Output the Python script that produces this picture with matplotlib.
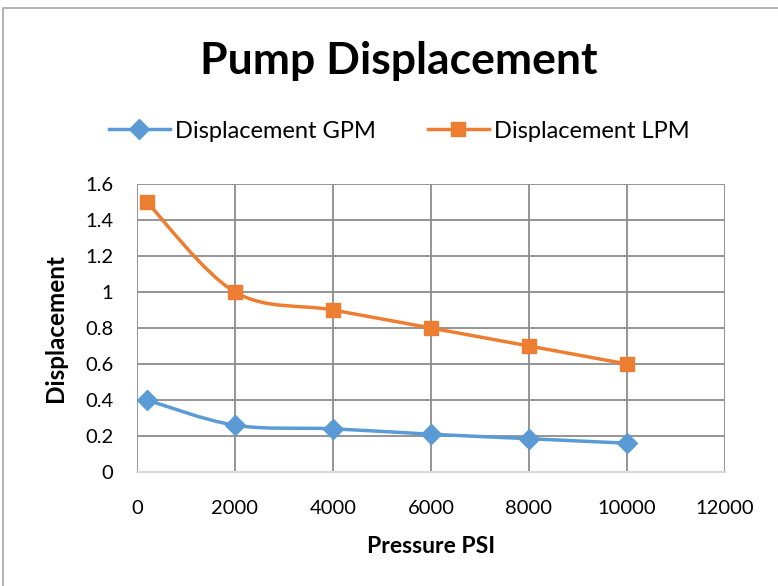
import matplotlib
matplotlib.use('Agg')
import matplotlib.pyplot as plt
import numpy as np
from matplotlib.path import Path
from matplotlib.patches import PathPatch, Rectangle
from matplotlib.lines import Line2D

# 数据
pressure_psi = [200, 2000, 4000, 6000, 8000, 10000]
displacement_gpm = [0.4, 0.26, 0.24, 0.21, 0.185, 0.16]
displacement_lpm = [1.5, 1.0, 0.9, 0.8, 0.7, 0.6]

x_ticks = [0, 2000, 4000, 6000, 8000, 10000, 12000]
y_ticks = [0, 0.2, 0.4, 0.6, 0.8, 1, 1.2, 1.4, 1.6]
y_tick_labels = ['0', '0.2', '0.4', '0.6', '0.8', '1', '1.2', '1.4', '1.6']

BLUE = '#5B9BD5'
ORANGE = '#ED7D31'
GRID = '#8c8c8c'

plt.rcParams['font.family'] = ['Lato', 'DejaVu Sans']


def smooth_path(xs, ys):
    """Excel 风格的平滑曲线（三次贝塞尔）"""
    pts = np.column_stack([xs, ys]).astype(float)
    n = len(pts)
    verts = [pts[0]]
    codes = [Path.MOVETO]
    for i in range(n - 1):
        p0 = pts[i - 1] if i > 0 else pts[i]
        p1 = pts[i]
        p2 = pts[i + 1]
        p3 = pts[i + 2] if i + 2 < n else pts[i + 1]
        c1 = p1 + (p2 - p0) / 6.0
        c2 = p2 - (p3 - p1) / 6.0
        verts += [c1, c2, p2]
        codes += [Path.CURVE4] * 3
    return Path(verts, codes)


fig = plt.figure(figsize=(7.78, 5.86), dpi=100)
fig.patches.append(Rectangle((3 / 778, -0.05), 1.2, 1.0 - 8 / 586 + 0.05,
                             transform=fig.transFigure, fill=False,
                             edgecolor='#a6a6a6', linewidth=1.2))

ax = fig.add_axes([137 / 778, 1 - 472 / 586, (725 - 137) / 778, (472 - 184) / 586])

for ys, color, marker, ms, label in [
    (displacement_gpm, BLUE, 'D', 10, 'Displacement GPM'),
    (displacement_lpm, ORANGE, 's', 10, 'Displacement LPM'),
]:
    ax.add_patch(PathPatch(smooth_path(pressure_psi, ys), facecolor='none',
                           edgecolor=color, linewidth=2.5, zorder=3,
                           capstyle='round'))
    ax.plot(pressure_psi, ys, linestyle='none', marker=marker, markersize=ms,
            color=color, zorder=4, label=label)

ax.set_xlim(0, 12000)
ax.set_ylim(0, 1.6)
ax.set_xticks(x_ticks)
ax.set_xticklabels([str(t) for t in x_ticks])
ax.set_yticks(y_ticks)
ax.set_yticklabels(y_tick_labels)
ax.grid(True, color=GRID, linewidth=1.3, zorder=0)
ax.set_axisbelow(True)
ax.tick_params(length=0, labelsize=14.5, colors='black')
ax.tick_params(axis='x', pad=20)
ax.tick_params(axis='y', pad=17)

for side in ['top', 'right', 'left']:
    ax.spines[side].set_visible(False)
ax.spines['bottom'].set_color('#d9d9d9')
ax.spines['bottom'].set_linewidth(1.5)

ax.set_xlabel('Pressure PSI', fontsize=16.5, fontweight='bold', labelpad=14)
ax.set_ylabel('Displacement', fontsize=17.5, fontweight='bold', labelpad=13)

fig.text(0.512, 1 - 61 / 586, 'Pump Displacement', fontsize=32,
         fontweight='bold', ha='center', va='center')

handles = [
    Line2D([], [], color=BLUE, linewidth=2.5, marker='D', markersize=10),
    Line2D([], [], color=ORANGE, linewidth=2.5, marker='s', markersize=10),
]
fig.legend(handles, ['Displacement GPM', 'Displacement LPM'],
           loc='center', bbox_to_anchor=(0.513, 1 - 131 / 586), ncol=2,
           frameon=False, fontsize=17, handlelength=2.6, columnspacing=2.2,
           handletextpad=0.2)

fig.savefig('out.png', dpi=100, facecolor='white')
plt.close(fig)
